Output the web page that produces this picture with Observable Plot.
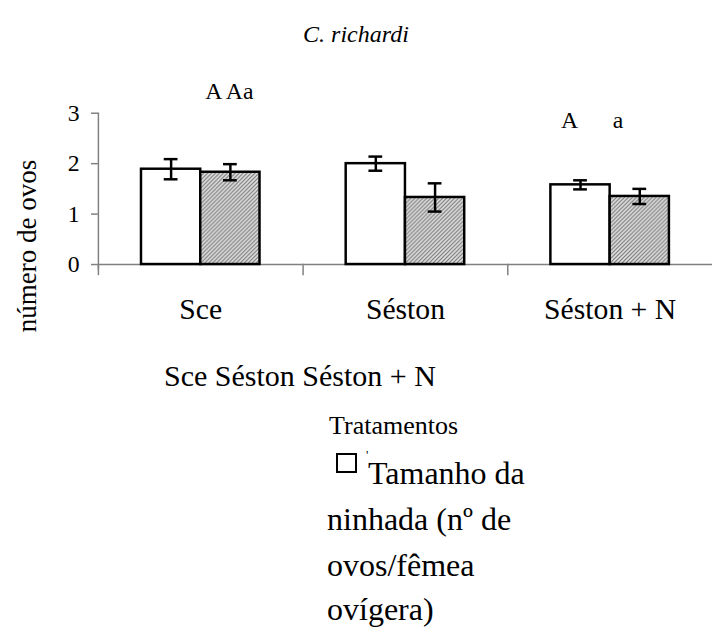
<!DOCTYPE html>
<html>
<head>
<meta charset="utf-8">
<script src="https://cdn.jsdelivr.net/npm/d3@7"></script>
<script src="https://cdn.jsdelivr.net/npm/@observablehq/plot@0.6"></script>
<style>
html, body { margin: 0; padding: 0; background: #fff; overflow: hidden; }
#wrap { position: relative; width: 712px; height: 628px; overflow: hidden;
  font-family: "Liberation Serif", "Times New Roman", Times, "DejaVu Serif", serif; color: #000; }
.t { position: absolute; white-space: nowrap; }
#chart { position: absolute; left: 0; top: 0; }
#chart svg { display: block; }
</style>
</head>
<body>
<div id="wrap">
  <div id="chart"></div>
  <div class="t" style="left:0;width:712px;text-align:center;top:22px;font-size:24px;line-height:24px;font-style:italic;">C. richardi</div>
  <div class="t" style="left:27px;top:246px;font-size:27px;line-height:27px;transform:translate(-50%,-50%) rotate(-90deg);">número de ovos</div>
  <div class="t" style="left:164px;top:361px;font-size:30px;line-height:30px;">Sce Séston Séston + N</div>
  <div class="t" style="left:329px;top:413px;font-size:26px;line-height:26px;">Tratamentos</div>
  <div class="t" style="left:336px;top:453px;width:21px;height:20px;border:2.5px solid #000;box-sizing:border-box;"></div>
  <div class="t" style="left:366px;top:448px;font-size:13px;line-height:13px;">'</div>
  <div class="t" style="left:368px;top:457px;font-size:32px;line-height:32px;">Tamanho da</div>
  <div class="t" style="left:327px;top:503px;font-size:32px;line-height:32px;">ninhada (nº de</div>
  <div class="t" style="left:327px;top:549px;font-size:32px;line-height:32px;">ovos/fêmea</div>
  <div class="t" style="left:327px;top:593px;font-size:32px;line-height:32px;">ovígera)</div>
</div>
<script>
// ---- data ----
const categories = ["Sce", "Séston", "Séston + N"];
const series = ["Tamanho da ninhada", "Série 2"];
const meanS1 = [1.89, 2.00, 1.58];
const errS1 = [0.20, 0.14, 0.09];
const meanS2 = [1.83, 1.33, 1.35];
const errS2 = [0.16, 0.28, 0.15];
const yTicks = [0, 1, 2, 3];
const letterText = ["A Aa", "A", "a"];
const letterCat = ["Sce", "Séston + N", "Séston + N"];
const letterSeries = [1, 0, 1];
const letterLevel = [3.28, 2.71, 2.71];

const data = [];
categories.forEach((c, i) => {
  data.push({cat: c, series: series[0], mean: meanS1[i], err: errS1[i]});
  data.push({cat: c, series: series[1], mean: meanS2[i], err: errS2[i]});
});
const letters = letterText.map((t, i) => ({cat: letterCat[i], series: series[letterSeries[i]], text: t, y: letterLevel[i]}));

const black = "#000", axisGray = "#808080";
const serif = "'Liberation Serif', 'Times New Roman', Times, 'DejaVu Serif', serif";

const chart = Plot.plot({
  width: 720,
  height: 340,
  marginTop: 114,
  marginBottom: 73,
  marginLeft: 98,
  marginRight: 0,
  style: {fontFamily: serif, fontSize: "24px", color: "#000", background: "transparent", overflow: "visible"},
  fx: {domain: categories, padding: 0, label: null},
  x: {domain: series, paddingInner: 0, paddingOuter: 0.727, round: false, axis: null},
  y: {domain: [0, 3], label: null, axis: null},
  color: {domain: series, range: ["#ffffff", "url(#stipple)"]},
  marks: [
    Plot.ruleY([0], {stroke: axisGray, strokeWidth: 1.5}),
    Plot.frame({anchor: "left", stroke: axisGray, strokeWidth: 1.5, insetTop: 153, insetBottom: -10}),
    Plot.frame({anchor: "left", facetAnchor: "left", stroke: axisGray, strokeWidth: 1.5, insetBottom: -4}),
    Plot.barY(data, {fx: "cat", x: "series", y: "mean", fill: "series", stroke: black, strokeWidth: 2.5}),
    Plot.ruleX(data, {fx: "cat", x: "series", y1: d => d.mean - d.err, y2: d => d.mean + d.err, stroke: black, strokeWidth: 2.5}),
    Plot.tickY(data, {fx: "cat", x: "series", y: d => d.mean + d.err, stroke: black, strokeWidth: 2.5, insetLeft: 23, insetRight: 23}),
    Plot.tickY(data, {fx: "cat", x: "series", y: d => d.mean - d.err, stroke: black, strokeWidth: 2.5, insetLeft: 23, insetRight: 23}),
    Plot.axisY({ticks: yTicks, tickSize: 7, tickPadding: 12, stroke: axisGray, strokeWidth: 1.5, fill: black, fontSize: 24, fontFamily: serif, tickFormat: d => String(d), label: null}),
    Plot.axisFx({anchor: "bottom", tickSize: 0, tickPadding: 34, fontSize: 30, fontFamily: serif, fill: black, label: null}),
    Plot.text([letters[0]], {fx: "cat", x: "series", y: "y", text: "text", fontSize: 24, fontFamily: serif, lineAnchor: "bottom", fill: black, dx: -1}),
    Plot.text([letters[1]], {fx: "cat", x: "series", y: "y", text: "text", fontSize: 24, fontFamily: serif, lineAnchor: "bottom", fill: black, dx: -11}),
    Plot.text([letters[2]], {fx: "cat", x: "series", y: "y", text: "text", fontSize: 24, fontFamily: serif, lineAnchor: "bottom", fill: black, dx: -22})
  ]
});

const ns = "http://www.w3.org/2000/svg";
const defs = document.createElementNS(ns, "defs");
defs.innerHTML = '<pattern id="stipple" width="4" height="4" patternUnits="userSpaceOnUse">' +
  '<rect width="4" height="4" fill="#e2e2e2"/>' +
  '<path d="M0,4 L4,0 M-1,1 L1,-1 M3,5 L5,3" stroke="#707070" stroke-width="1.1"/></pattern>';
chart.insertBefore(defs, chart.firstChild);
document.getElementById("chart").appendChild(chart);
</script>
</body>
</html>
